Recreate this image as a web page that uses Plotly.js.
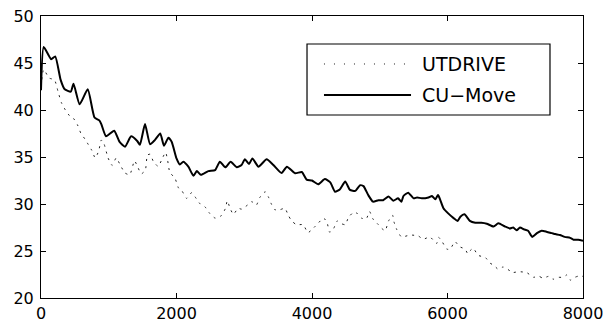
<!DOCTYPE html>
<html>
<head>
<meta charset="utf-8">
<script src="https://cdn.plot.ly/plotly-3.0.1.min.js"></script>
<style>html,body{margin:0;padding:0;background:#fff;}#chart{width:609px;height:322px;}</style>
</head>
<body>
<div id="chart"></div>
<script>
// UTDRIVE (dotted)
const utdriveX = [0,40,120,200,250,300,360,420,480,540,590,650,700,750,800,850,890,930,990,1050,1110,1180,1240,1310,1380,1430,1480,1540,1570,1610,1660,1730,1800,1840,1870,1900,1980,2030,2080,2150,2220,2270,2350,2420,2490,2570,2660,2720,2750,2790,2840,2910,2960,3050,3110,3180,3230,3310,3360,3400,3450,3530,3600,3650,3700,3770,3870,3940,4030,4090,4170,4220,4260,4320,4370,4420,4490,4540,4610,4650,4730,4800,4850,4900,4980,5030,5080,5130,5190,5210,5250,5320,5450,5570,5640,5740,5840,5870,5920,5990,6040,6110,6180,6260,6300,6330,6380,6450,6560,6630,6680,6750,6820,6920,6950,7050,7170,7270,7340,7410,7490,7560,7640,7710,7760,7810,7880,7940,8000];
const utdriveY = [42.5,44.3,43.4,43.2,42.0,40.8,40.0,39.4,39.1,38.4,37.5,36.9,36.3,35.7,34.9,35.6,36.8,36.4,34.9,34.1,34.9,34.0,33.3,33.1,34.6,33.9,33.2,33.6,35.2,35.3,34.5,34.0,35.0,35.5,34.6,33.4,32.7,31.7,31.4,30.6,31.2,30.8,30.0,29.7,29.0,28.5,28.75,29.5,30.35,29.55,28.9,29.55,29.45,29.9,30.25,29.9,30.7,31.3,30.7,30.0,29.4,29.4,29.55,28.8,28.2,27.8,27.8,26.95,27.5,27.95,28.5,28.1,27.0,27.4,28.2,27.95,27.8,28.6,29.1,29.1,28.5,28.4,29.2,28.4,27.8,27.4,27.15,28.2,28.8,28.1,27.3,26.5,26.7,26.6,26.25,26.5,25.8,26.45,26.0,25.2,25.2,26.0,25.45,25.2,24.7,25.0,25.3,24.55,24.3,23.7,23.5,23.05,23.3,22.9,22.7,22.8,22.7,22.2,22.35,22.1,22.3,22.0,22.2,22.2,22.45,21.9,22.2,22.35,22.3];

// CU-Move (solid)
const cumoveX = [0,40,150,210,290,350,440,480,570,690,790,860,890,960,1080,1160,1240,1330,1420,1460,1535,1610,1680,1760,1815,1880,1930,2000,2050,2100,2175,2250,2300,2360,2470,2570,2640,2720,2800,2890,2960,3010,3070,3120,3210,3330,3430,3550,3630,3750,3850,3920,4000,4090,4190,4270,4340,4410,4490,4560,4640,4710,4760,4830,4900,4980,5050,5130,5200,5270,5320,5350,5420,5500,5550,5620,5720,5770,5820,5860,5890,5940,6010,6090,6150,6190,6250,6330,6410,6500,6580,6680,6750,6850,6920,6970,7020,7070,7130,7190,7250,7320,7390,7460,7540,7590,7660,7730,7810,7860,7930,8000];
const cumoveY = [42.1,46.7,45.4,45.7,43.2,42.2,41.95,42.8,40.6,42.2,39.2,38.9,38.5,37.2,37.8,36.6,36.1,37.2,36.7,36.3,38.5,36.35,36.8,37.5,36.2,37.05,36.6,34.85,34.2,34.5,33.97,33.0,33.5,33.1,33.5,33.6,34.5,33.9,34.5,33.9,34.15,34.75,34.25,34.85,33.97,34.75,34.15,33.3,33.97,33.27,33.4,32.6,32.5,32.1,32.65,32.3,31.3,31.55,32.4,31.5,31.4,32.0,31.9,30.95,30.25,30.4,30.4,30.8,30.35,30.6,30.25,30.85,31.2,30.6,30.7,30.6,30.7,30.85,30.5,30.95,30.5,29.55,29.0,28.5,28.2,28.65,28.9,28.2,28.0,28.0,27.9,27.6,27.95,27.6,27.4,27.5,27.2,27.5,27.3,27.15,26.5,26.9,27.15,27.05,26.9,26.8,26.7,26.5,26.4,26.2,26.2,26.1];

const xTicks = [0,2000,4000,6000,8000];
const yTicks = [20,25,30,35,40,45,50];
const seriesNames = ['UTDRIVE','CU\u2212Move'];

const tickFont = {family:'DejaVu Sans, Liberation Sans, Arial, sans-serif', size:16, color:'#000'};
const legFont = {family:'DejaVu Sans, Liberation Sans, Arial, sans-serif', size:19, color:'#000'};

const traces = [
  {x: utdriveX, y: utdriveY, name: seriesNames[0], type:'scatter', mode:'lines',
   line:{color:'#222', width:1, dash:'2px,5px', shape:'spline', smoothing:0.5}, showlegend:false},
  {x: cumoveX, y: cumoveY, name: seriesNames[1], type:'scatter', mode:'lines',
   line:{color:'#000', width:2, shape:'spline', smoothing:0.5}, showlegend:false}
];

const axisCommon = {showgrid:false, zeroline:false, showline:true, linecolor:'#000', linewidth:1,
  mirror:'ticks', ticks:'inside', ticklen:5, tickwidth:1, tickcolor:'#000', tickfont:tickFont};

const layout = {
  width:609, height:322,
  margin:{l:41, r:26, t:16, b:24},
  paper_bgcolor:'#fff', plot_bgcolor:'#fff',
  showlegend:false,
  xaxis: Object.assign({}, axisCommon, {range:[0,8000], tickvals:xTicks, ticktext:xTicks.map(String), ticklabelstandoff:1}),
  yaxis: Object.assign({}, axisCommon, {range:[20,50], tickvals:yTicks, ticktext:yTicks.map(String), ticklabelstandoff:3}),
  shapes:[
    {type:'rect', xref:'paper', yref:'paper', x0:0.4908, x1:0.9391, y0:0.6489, y1:0.9007,
     line:{color:'#000', width:1.2}, fillcolor:'#fff', layer:'above'},
    {type:'line', xref:'paper', yref:'paper', x0:0.5221, x1:0.6827, y0:0.8298, y1:0.8298,
     line:{color:'#222', width:1, dash:'1px,9px'}, layer:'above'},
    {type:'line', xref:'paper', yref:'paper', x0:0.5221, x1:0.6827, y0:0.7199, y1:0.7199,
     line:{color:'#000', width:2}, layer:'above'}
  ],
  annotations:[
    {xref:'paper', yref:'paper', x:0.6993, y:0.8298, xanchor:'left', yanchor:'middle',
     text:seriesNames[0], showarrow:false, font:legFont},
    {xref:'paper', yref:'paper', x:0.6993, y:0.7199, xanchor:'left', yanchor:'middle',
     text:seriesNames[1], showarrow:false, font:legFont}
  ]
};

Plotly.newPlot('chart', traces, layout, {displayModeBar:false, staticPlot:true});
</script>
</body>
</html>
